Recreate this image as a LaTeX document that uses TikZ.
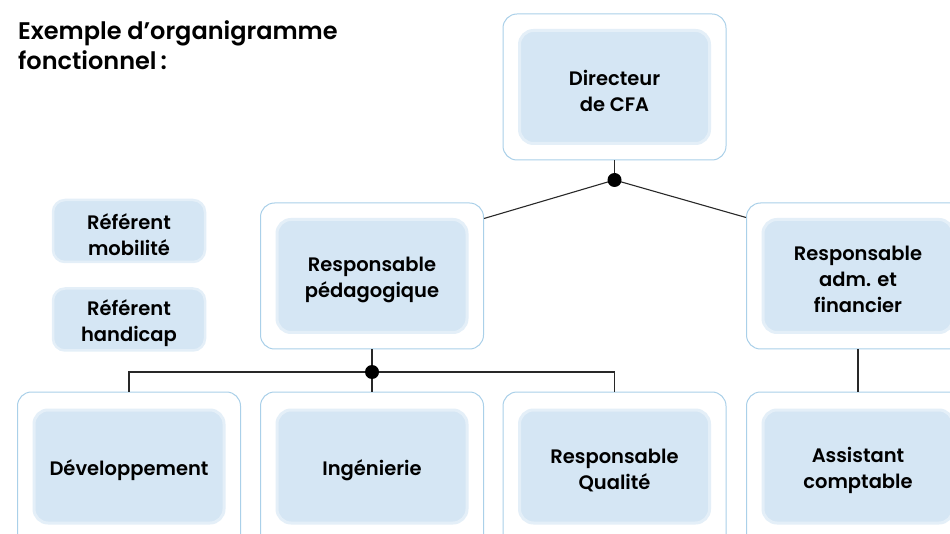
\documentclass[tikz,border=0pt]{standalone}
\usepackage{fontspec}
\IfFontExistsTF{Poppins SemiBold}{\setmainfont{Poppins}[BoldFont={Poppins SemiBold}]}{\setmainfont{Poppins}}
\usetikzlibrary{calc}
\definecolor{bordc}{RGB}{170,208,233}
\definecolor{innerc}{RGB}{213,230,244}
\definecolor{glowc}{RGB}{228,239,248}
\definecolor{linec}{RGB}{40,40,40}
\tikzset{
  outerbox/.style={draw=bordc, fill=white, line width=1pt, rounded corners=14pt, minimum width=223pt, minimum height=146pt, inner sep=0pt},
  innerbox/.style={fill=innerc, draw=glowc, line width=3pt, rounded corners=14pt, minimum width=190pt, minimum height=113pt, inner sep=0pt},
  refbox/.style={fill=innerc, draw=glowc, line width=2.5pt, rounded corners=12pt, minimum width=152pt, minimum height=62pt, inner sep=0pt},
  lbl/.style={align=center, font=\fontsize{19.5}{26}\selectfont\bfseries, text=black, inner sep=0pt, yshift=-3.5pt},
  conn/.style={draw=linec, line width=1.1pt},
  jdot/.style={circle, fill=black, minimum size=14pt, inner sep=0pt},
  title/.style={align=left, anchor=north west, font=\fontsize{24}{30}\selectfont\bfseries, inner sep=0pt}
}
\begin{document}
\begin{tikzpicture}[x=1pt,y=-1pt]
\useasboundingbox (0,0) rectangle (950,534);
\node[title] (ttl) at (18,20) {Exemple d’organigramme\\fonctionnel\,:};
% outer boxes
\node[outerbox] (dir) at (614.5,87) {};
\node[outerbox] (ped) at (372,276) {};
\node[outerbox] (adm) at (858,276) {};
\node[outerbox, minimum height=160pt] (dev) at (129,472) {};
\node[outerbox, minimum height=160pt] (ing) at (372,472) {};
\node[outerbox, minimum height=160pt] (qual) at (614.5,472) {};
\node[outerbox, minimum height=160pt] (asst) at (858,472) {};
% inner boxes
\node[innerbox] (dirI) at (dir.center) {};
\node[innerbox] (pedI) at (ped.center) {};
\node[innerbox] (admI) at (adm.center) {};
\node[innerbox] (devI) at (129,466.5) {};
\node[innerbox] (ingI) at (372,466.5) {};
\node[innerbox] (qualI) at (614.5,466.5) {};
\node[innerbox] (asstI) at (858,466.5) {};
\node[refbox] (mob) at (129,231) {};
\node[refbox] (hand) at (129,319.5) {};
% labels
\node[lbl] (dirT) at (dirI.center) {Directeur\\de CFA};
\node[lbl] (pedT) at (pedI.center) {Responsable\\pédagogique};
\node[lbl] (admT) at (admI.center) {Responsable\\adm. et\\financier};
\node[lbl] (devT) at (devI.center) {Développement};
\node[lbl] (ingT) at (ingI.center) {Ingénierie};
\node[lbl] (qualT) at (qualI.center) {Responsable\\Qualité};
\node[lbl] (asstT) at (asstI.center) {Assistant\\comptable};
\node[lbl] (mobT) at (mob.center) {Référent\\mobilité};
\node[lbl] (handT) at (hand.center) {Référent\\handicap};
% connectors
\coordinate (j1) at (614.5,180);
\coordinate (j2) at (372,372);
\draw[conn] (dir.south) -- (j1);
\draw[conn] (j1) -- ($(ped.north east)+(0,16)$);
\draw[conn] (j1) -- ($(adm.north west)+(0,15)$);
\draw[conn] (ped.south) -- (j2) -- (ing.north);
\draw[conn] (dev.north) -- (dev.north |- j2) -- (qual.north |- j2) -- (qual.north);
\draw[conn] (adm.south) -- (asst.north);
\node[jdot] (d1) at (j1) {};
\node[jdot] (d2) at (j2) {};
\end{tikzpicture}
\end{document}
